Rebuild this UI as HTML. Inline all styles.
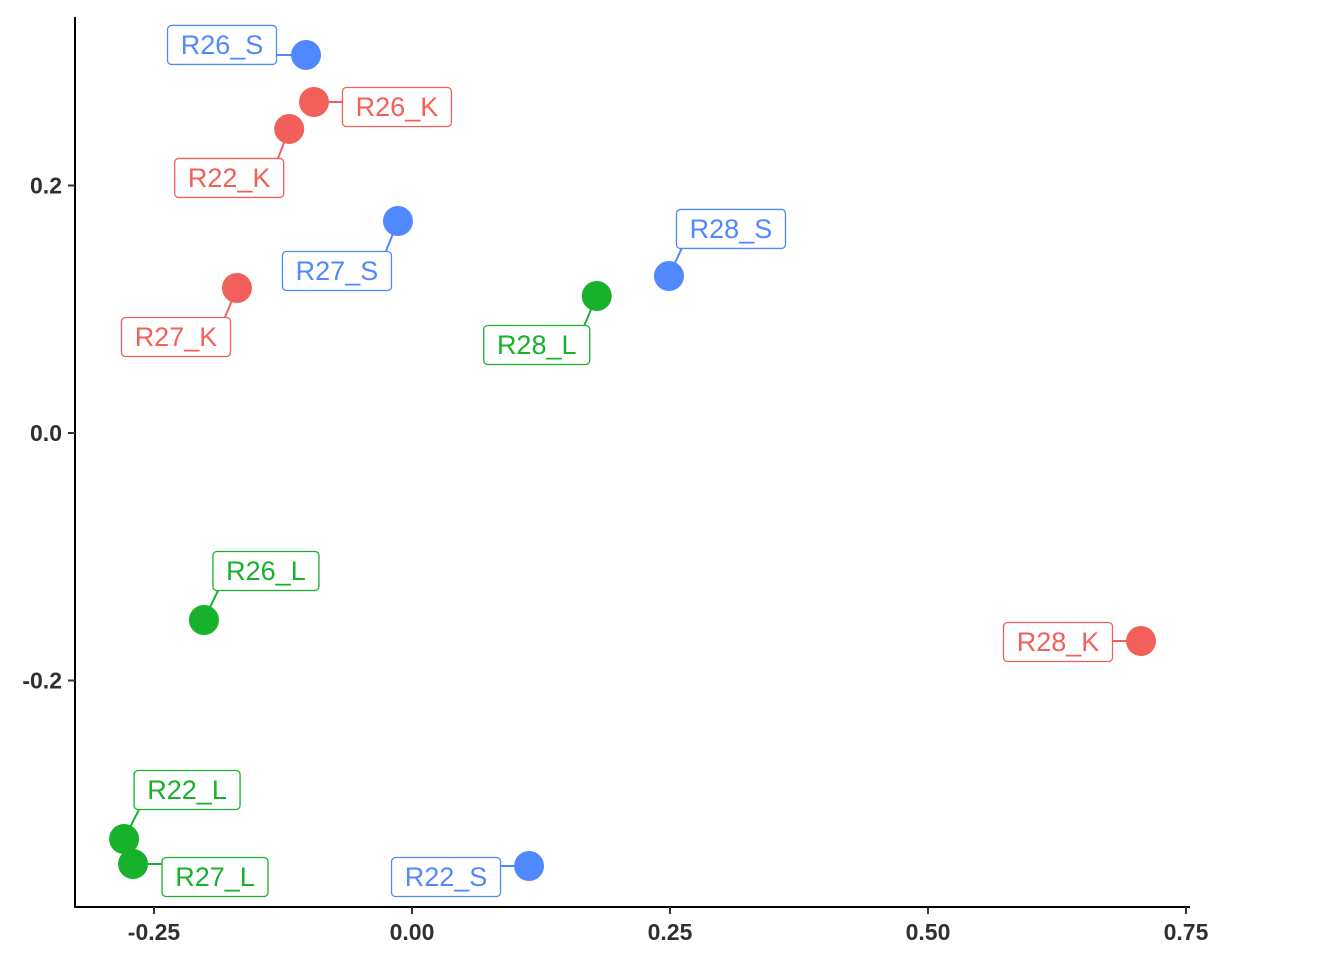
<!DOCTYPE html>
<html><head><meta charset="utf-8"><style>
html,body{margin:0;padding:0;background:#fff;}
svg{display:block;}
</style></head><body>
<svg id="chart" width="1344" height="960" xmlns="http://www.w3.org/2000/svg">
<g id="axes"></g>
<g id="segs"></g>
<g id="pts"></g>
<g id="labs"></g>
</svg>
<script>
const names = ["R26_S","R26_K","R22_K","R27_S","R27_K","R28_S","R28_L","R26_L","R28_K","R22_L","R27_L","R22_S"];
const xVals = [-0.1027,-0.095,-0.119,-0.0136,-0.1696,0.249,0.179,-0.2016,0.7064,-0.279,-0.2703,0.1134];
const yVals = [0.3055,0.2675,0.2457,0.1713,0.1172,0.1269,0.1107,-0.1511,-0.1681,-0.3281,-0.3483,-0.3499];
const groups = ["S","K","K","S","K","S","L","L","K","L","L","S"];
const xTicks = [-0.25,0,0.25,0.5,0.75];
const xTickLabels = ["-0.25","0.00","0.25","0.50","0.75"];
const yTicks = [0.2,0,-0.2];
const yTickLabels = ["0.2","0.0","-0.2"];
// label box offsets relative to point (layout, px)
const labelDx = [-84,83,-60,-61,-61,62,-60,62,-83,63,82,-83];
const labelDy = [-10,5,49,50,49,-47,49,-49,1,-49,13,11];

const colors = {K:"#F3605B", L:"#17B12B", S:"#5089FF"};
const X = v => 412 + v*1032;
const Y = v => 433 - v*1237.5;
const NS = "http://www.w3.org/2000/svg";
function mk(tag, attrs, parent){const e=document.createElementNS(NS,tag);for(const k in attrs)e.setAttribute(k,attrs[k]);parent.appendChild(e);return e;}

const axes = document.getElementById('axes');
let l = mk('line',{x1:75,y1:17,x2:75,y2:908,stroke:'#000','stroke-width':2},axes);


l = mk('line',{x1:74,y1:907,x2:1190,y2:907,stroke:'#000','stroke-width':2},axes);


xTicks.forEach((t,i)=>{
  const tk = mk('line',{x1:X(t),y1:907,x2:X(t),y2:914,stroke:'#333','stroke-width':2},axes);
  
  
  const tx = mk('text',{x:X(t),y:940,'text-anchor':'middle','font-family':'Liberation Sans, sans-serif','font-size':23,'font-weight':'bold',fill:'#303030'},axes);
  tx.textContent = xTickLabels[i];
  
  
});
yTicks.forEach((t,i)=>{
  const tk = mk('line',{x1:68,y1:Y(t),x2:75,y2:Y(t),stroke:'#333','stroke-width':2},axes);
  
  
  const tx = mk('text',{x:62,y:Y(t)+8,'text-anchor':'end','font-family':'Liberation Sans, sans-serif','font-size':23,'font-weight':'bold',fill:'#303030'},axes);
  tx.textContent = yTickLabels[i];
  
  
});
const segs=document.getElementById('segs'), pts=document.getElementById('pts'), labs=document.getElementById('labs');
names.forEach((n,i)=>{
  const px=X(xVals[i]), py=Y(yVals[i]), c=colors[groups[i]];
  const cx=px+labelDx[i], cy=py+labelDy[i];
  const w = n.endsWith('L')?106:109;
  const bx0=cx-w/2, bx1=cx+w/2, by0=cy-19.5, by1=cy+19.5;
  let ex=Math.min(Math.max(px,bx0+8),bx1-8), ey=Math.min(Math.max(py,by0+6),by1-6);
  const s = mk('line',{x1:px,y1:py,x2:ex,y2:ey,stroke:c,'stroke-width':2},segs);
  
  
  const p = mk('circle',{cx:px,cy:py,r:15,fill:c},pts);
  
  
  const g = mk('g',{},labs);
  
  
  mk('rect',{x:bx0,y:by0,width:w,height:39,rx:4,fill:'#fff',stroke:c,'stroke-width':1.3},g);
  const t = mk('text',{x:cx,y:cy+9,'text-anchor':'middle','font-family':'Liberation Sans, sans-serif','font-size':27,fill:c},g);
  t.textContent=n;
});
</script>
</body></html>
